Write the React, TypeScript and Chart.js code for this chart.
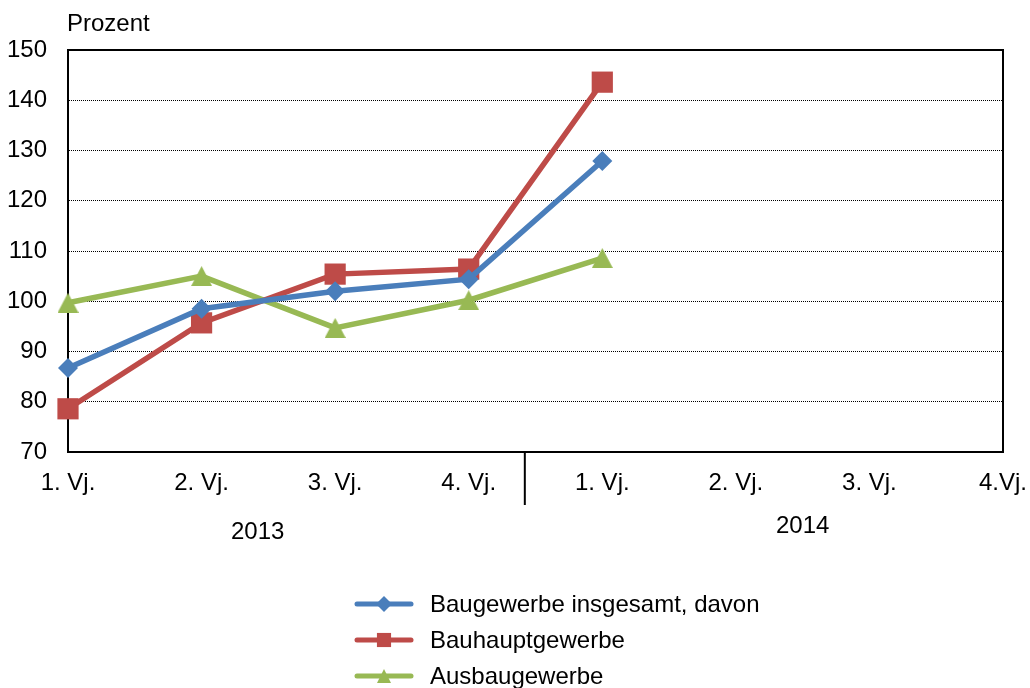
import React, { useEffect, useRef } from "react";
import { Chart, registerables } from "chart.js";

Chart.register(...registerables);

const categories = ["1. Vj.", "2. Vj.", "3. Vj.", "4. Vj.", "1. Vj.", "2. Vj.", "3. Vj.", "4.Vj."];
const years = ["2013", "2014"];
const baugewerbe = [86.7, 98.5, 102.0, 104.4, 127.9, null, null, null];
const bauhaupt = [78.6, 95.7, 105.4, 106.4, 143.6, null, null, null];
const ausbau = [99.7, 105.0, 94.7, 100.2, 108.6, null, null, null];
const seriesNames = ["Baugewerbe insgesamt, davon", "Bauhauptgewerbe", "Ausbaugewerbe"];
const yTicks = [70, 80, 90, 100, 110, 120, 130, 140, 150];

const BLUE = "#4a7ebb";
const RED = "#be4b48";
const GREEN = "#98b954";
const FONT = "'Liberation Sans', Arial, sans-serif";
const FS = 24;

function triangleImage(w: number, h: number, color: string) {
  const c = document.createElement("canvas");
  c.width = w;
  c.height = h;
  const g = c.getContext("2d")!;
  g.fillStyle = color;
  g.beginPath();
  g.moveTo(w / 2, 0);
  g.lineTo(w, h);
  g.lineTo(0, h);
  g.closePath();
  g.fill();
  return c;
}

function drawMarker(ctx: CanvasRenderingContext2D, style: string, x: number, y: number, r: number, color: string) {
  ctx.save();
  ctx.fillStyle = color;
  ctx.beginPath();
  if (style === "rectRot") {
    ctx.moveTo(x, y - r);
    ctx.lineTo(x + r, y);
    ctx.lineTo(x, y + r);
    ctx.lineTo(x - r, y);
  } else if (style === "rect") {
    const s = r * Math.SQRT1_2;
    ctx.rect(x - s, y - s, 2 * s, 2 * s);
  } else {
    ctx.moveTo(x, y - r);
    ctx.lineTo(x + r, y + r);
    ctx.lineTo(x - r, y + r);
  }
  ctx.closePath();
  ctx.fill();
  ctx.restore();
}

const extras = {
  id: "extras",
  beforeDatasetsDraw(chart: any) {
    const { ctx, chartArea } = chart;
    ctx.save();
    ctx.strokeStyle = "#000";
    ctx.lineWidth = 2;
    ctx.strokeRect(chartArea.left, chartArea.top, chartArea.right - chartArea.left, chartArea.bottom - chartArea.top);
    ctx.restore();
  },
  afterDraw(chart: any) {
    const { ctx, chartArea, scales } = chart;
    const x = scales.x;
    ctx.save();
    ctx.fillStyle = "#000";
    ctx.font = `${FS}px ${FONT}`;
    ctx.textBaseline = "middle";
    ctx.textAlign = "left";
    ctx.fillText("Prozent", chartArea.left - 1, 24);

    // separator between years
    const p3 = x.getPixelForValue(3);
    const p4 = x.getPixelForValue(4);
    const sepX = p3 + (p4 - p3) * 0.42;
    ctx.strokeStyle = "#000";
    ctx.lineWidth = 2;
    ctx.beginPath();
    ctx.moveTo(sepX, chartArea.bottom);
    ctx.lineTo(sepX, chartArea.bottom + 53);
    ctx.stroke();

    // year labels
    ctx.textAlign = "center";
    const p1 = x.getPixelForValue(1);
    const p2 = x.getPixelForValue(2);
    ctx.fillText(years[0], p1 + (p2 - p1) * 0.42, chartArea.bottom + 80);
    const p5 = x.getPixelForValue(5);
    const p6 = x.getPixelForValue(6);
    ctx.fillText(years[1], (p5 + p6) / 2, chartArea.bottom + 74);

    // legend
    const datasets = chart.data.datasets;
    const lx0 = 357;
    const lx1 = 411;
    const ly0 = 604;
    const step = 36;
    const styles = ["rectRot", "rect", "tri"];
    datasets.forEach((ds: any, i: number) => {
      const ly = ly0 + i * step;
      ctx.strokeStyle = ds.borderColor;
      ctx.lineWidth = 5;
      ctx.lineCap = "round";
      ctx.beginPath();
      ctx.moveTo(lx0, ly);
      ctx.lineTo(lx1, ly);
      ctx.stroke();
      const st = styles[i];
      drawMarker(ctx, st, (lx0 + lx1) / 2, ly, st === "rect" ? 10 : st === "tri" ? 7 : 8, ds.borderColor);
      ctx.fillStyle = "#000";
      ctx.textAlign = "left";
      ctx.fillText(ds.label, 430, ly + 1);
    });
    ctx.restore();
  },
};

export default function App() {
  const ref = useRef<HTMLCanvasElement | null>(null);
  useEffect(() => {
    if (!ref.current) return;
    const tri = triangleImage(21, 20, GREEN);
    const chart = new Chart(ref.current, {
      type: "line",
      data: {
        labels: categories,
        datasets: [
          {
            label: seriesNames[0],
            data: baugewerbe,
            borderColor: BLUE,
            backgroundColor: BLUE,
            borderWidth: 5.5,
            pointStyle: "rectRot",
            pointRadius: 10,
            pointBorderWidth: 0,
            pointBackgroundColor: BLUE,
            tension: 0,
          },
          {
            label: seriesNames[1],
            data: bauhaupt,
            borderColor: RED,
            backgroundColor: RED,
            borderWidth: 5.5,
            pointStyle: "rect",
            pointRadius: 15,
            pointBorderWidth: 0,
            pointBackgroundColor: RED,
            tension: 0,
          },
          {
            label: seriesNames[2],
            data: ausbau,
            borderColor: GREEN,
            backgroundColor: GREEN,
            borderWidth: 5.5,
            pointStyle: tri,
            pointRadius: 11,
            pointBorderWidth: 0,
            pointBackgroundColor: GREEN,
            tension: 0,
          },
        ] as any,
      },
      options: {
        animation: false,
        responsive: false,
        maintainAspectRatio: false,
        spanGaps: false,
        layout: { padding: { top: 50, right: 27, left: 0, bottom: 0 } },
        plugins: { legend: { display: false }, tooltip: { enabled: false } },
        scales: {
          x: {
            type: "category",
            offset: false,
            grid: { display: false, drawTicks: false },
            border: { display: true, color: "#000", width: 2 },
            ticks: {
              color: "#000",
              font: { family: FONT, size: FS },
              padding: 17,
              maxRotation: 0,
              autoSkip: false,
            },
            afterFit(scale: any) {
              scale.height = 236;
              scale.paddingLeft = 0;
              scale.paddingRight = 0;
            },
          },
          y: {
            min: 70,
            max: 150,
            afterBuildTicks(scale: any) {
              scale.ticks = yTicks.map((v) => ({ value: v }));
            },
            grid: {
              color: (c: any) => (c.tick && (c.tick.value === 70 || c.tick.value === 150) ? "rgba(0,0,0,0)" : "#000"),
              lineWidth: 1,
              drawTicks: false,
            },
            border: { display: true, color: "#000", width: 2, dash: [1, 1] },
            ticks: {
              color: "#000",
              font: { family: FONT, size: FS },
              padding: 21,
            },
            afterFit(scale: any) {
              scale.width = 68;
              scale.paddingTop = 0;
              scale.paddingBottom = 0;
            },
          },
        },
      } as any,
      plugins: [extras],
    });
    return () => chart.destroy();
  }, []);
  return (
    <div style={{ position: "fixed", left: 0, top: 0, width: 1030, height: 688, background: "#fff" }}>
      <canvas ref={ref} width={1030} height={688} style={{ width: 1030, height: 688, display: "block" }} />
    </div>
  );
}
